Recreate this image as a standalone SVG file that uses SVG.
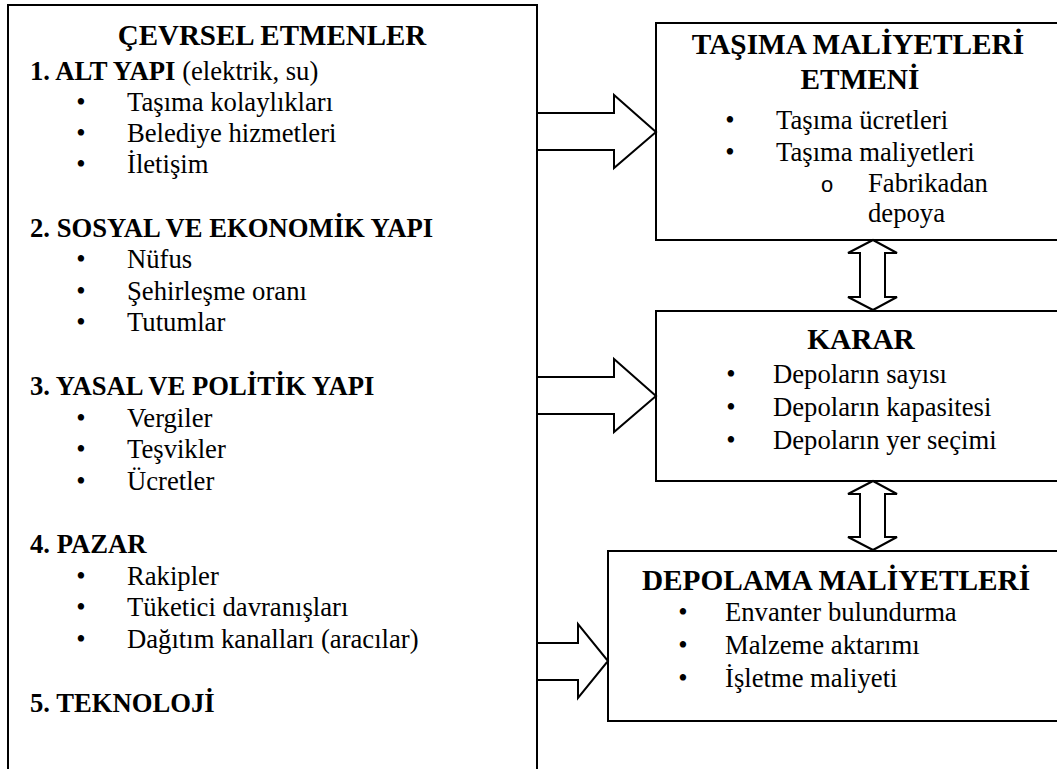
<svg xmlns="http://www.w3.org/2000/svg" width="1057" height="769" viewBox="0 0 1057 769">
<rect width="1057" height="769" fill="#fff"/>
<g id="cevrsel" style="font-family:'Liberation Serif',Tinos,serif;font-size:26.67px">
<rect x="8" y="5" width="529" height="800" fill="#fff" stroke="#000" stroke-width="2"/>
<text x="272" y="45" text-anchor="middle" style="font-family:'Liberation Serif',Tinos,serif;font-size:29px;font-weight:bold">ÇEVRSEL ETMENLER</text>
<text x="30" y="80" style="font-family:'Liberation Serif',Tinos,serif;font-weight:bold">1. ALT YAPI <tspan style="font-weight:normal">(elektrik, su)</tspan></text>
<text x="81" y="111" text-anchor="middle" style="font-family:'Liberation Serif',Tinos,serif">•</text><text x="127" y="111" style="font-family:'Liberation Serif',Tinos,serif">Taşıma kolaylıkları</text>
<text x="81" y="142" text-anchor="middle" style="font-family:'Liberation Serif',Tinos,serif">•</text><text x="127" y="142" style="font-family:'Liberation Serif',Tinos,serif">Belediye hizmetleri</text>
<text x="81" y="173" text-anchor="middle" style="font-family:'Liberation Serif',Tinos,serif">•</text><text x="127" y="173" style="font-family:'Liberation Serif',Tinos,serif">İletişim</text>
<text x="30" y="237" style="font-family:'Liberation Serif',Tinos,serif;font-weight:bold">2. SOSYAL VE EKONOMİK YAPI</text>
<text x="81" y="268" text-anchor="middle" style="font-family:'Liberation Serif',Tinos,serif">•</text><text x="127" y="268" style="font-family:'Liberation Serif',Tinos,serif">Nüfus</text>
<text x="81" y="300" text-anchor="middle" style="font-family:'Liberation Serif',Tinos,serif">•</text><text x="127" y="300" style="font-family:'Liberation Serif',Tinos,serif">Şehirleşme oranı</text>
<text x="81" y="331" text-anchor="middle" style="font-family:'Liberation Serif',Tinos,serif">•</text><text x="127" y="331" style="font-family:'Liberation Serif',Tinos,serif">Tutumlar</text>
<text x="30" y="395" style="font-family:'Liberation Serif',Tinos,serif;font-weight:bold">3. YASAL VE POLİTİK YAPI</text>
<text x="81" y="427" text-anchor="middle" style="font-family:'Liberation Serif',Tinos,serif">•</text><text x="127" y="427" style="font-family:'Liberation Serif',Tinos,serif">Vergiler</text>
<text x="81" y="458" text-anchor="middle" style="font-family:'Liberation Serif',Tinos,serif">•</text><text x="127" y="458" style="font-family:'Liberation Serif',Tinos,serif">Teşvikler</text>
<text x="81" y="490" text-anchor="middle" style="font-family:'Liberation Serif',Tinos,serif">•</text><text x="127" y="490" style="font-family:'Liberation Serif',Tinos,serif">Ücretler</text>
<text x="30" y="553" style="font-family:'Liberation Serif',Tinos,serif;font-weight:bold">4. PAZAR</text>
<text x="81" y="585" text-anchor="middle" style="font-family:'Liberation Serif',Tinos,serif">•</text><text x="127" y="585" style="font-family:'Liberation Serif',Tinos,serif">Rakipler</text>
<text x="81" y="616" text-anchor="middle" style="font-family:'Liberation Serif',Tinos,serif">•</text><text x="127" y="616" style="font-family:'Liberation Serif',Tinos,serif">Tüketici davranışları</text>
<text x="81" y="648" text-anchor="middle" style="font-family:'Liberation Serif',Tinos,serif">•</text><text x="127" y="648" style="font-family:'Liberation Serif',Tinos,serif">Dağıtım kanalları (aracılar)</text>
<text x="30" y="712" style="font-family:'Liberation Serif',Tinos,serif;font-weight:bold">5. TEKNOLOJİ</text>
</g>
<g id="tasima" style="font-family:'Liberation Serif',Tinos,serif;font-size:26.67px">
<rect x="656" y="23" width="450" height="217" fill="#fff" stroke="#000" stroke-width="2"/>
<text x="858" y="54" text-anchor="middle" style="font-family:'Liberation Serif',Tinos,serif;font-size:29.3px;font-weight:bold">TAŞIMA MALİYETLERİ</text>
<text x="860" y="89" text-anchor="middle" style="font-family:'Liberation Serif',Tinos,serif;font-size:29.3px;font-weight:bold">ETMENİ</text>
<text x="730" y="129" text-anchor="middle" style="font-family:'Liberation Serif',Tinos,serif">•</text><text x="776" y="129" style="font-family:'Liberation Serif',Tinos,serif">Taşıma ücretleri</text>
<text x="730" y="161" text-anchor="middle" style="font-family:'Liberation Serif',Tinos,serif">•</text><text x="776" y="161" style="font-family:'Liberation Serif',Tinos,serif">Taşıma maliyetleri</text>
<text x="827" y="192" text-anchor="middle" style="font-family:'Liberation Mono',monospace;font-size:22px">o</text><text x="868" y="192" style="font-family:'Liberation Serif',Tinos,serif">Fabrikadan</text>
<text x="868" y="222" style="font-family:'Liberation Serif',Tinos,serif">depoya</text>
</g>
<g id="karar" style="font-family:'Liberation Serif',Tinos,serif;font-size:26.67px">
<rect x="656" y="311" width="450" height="170" fill="#fff" stroke="#000" stroke-width="2"/>
<text x="861" y="349" text-anchor="middle" style="font-family:'Liberation Serif',Tinos,serif;font-size:29.3px;font-weight:bold">KARAR</text>
<text x="731" y="383" text-anchor="middle" style="font-family:'Liberation Serif',Tinos,serif">•</text><text x="773" y="383" style="font-family:'Liberation Serif',Tinos,serif">Depoların sayısı</text>
<text x="731" y="416" text-anchor="middle" style="font-family:'Liberation Serif',Tinos,serif">•</text><text x="773" y="416" style="font-family:'Liberation Serif',Tinos,serif">Depoların kapasitesi</text>
<text x="731" y="449" text-anchor="middle" style="font-family:'Liberation Serif',Tinos,serif">•</text><text x="773" y="449" style="font-family:'Liberation Serif',Tinos,serif">Depoların yer seçimi</text>
</g>
<g id="depolama" style="font-family:'Liberation Serif',Tinos,serif;font-size:26.67px">
<rect x="608" y="551" width="500" height="170" fill="#fff" stroke="#000" stroke-width="2"/>
<text x="836" y="590" text-anchor="middle" style="font-family:'Liberation Serif',Tinos,serif;font-size:29.3px;font-weight:bold">DEPOLAMA MALİYETLERİ</text>
<text x="683" y="621" text-anchor="middle" style="font-family:'Liberation Serif',Tinos,serif">•</text><text x="725" y="621" style="font-family:'Liberation Serif',Tinos,serif">Envanter bulundurma</text>
<text x="683" y="654" text-anchor="middle" style="font-family:'Liberation Serif',Tinos,serif">•</text><text x="725" y="654" style="font-family:'Liberation Serif',Tinos,serif">Malzeme aktarımı</text>
<text x="683" y="687" text-anchor="middle" style="font-family:'Liberation Serif',Tinos,serif">•</text><text x="725" y="687" style="font-family:'Liberation Serif',Tinos,serif">İşletme maliyeti</text>
</g>
<g id="connectors" fill="#fff" stroke="#000" stroke-width="2">
<polygon points="537,113 614,113 614,95 656,132 614,168 614,150 537,150"/>
<polygon points="537,377 614,377 614,359 656,396 614,432 614,414 537,414"/>
<polygon points="537,643 578,643 578,624 608,661 578,698 578,680 537,680"/>
<polygon points="873,240 897,253 885,253 885,297 897,297 873,310 848,297 860,297 860,253 848,253"/>
<polygon points="873,481 897,494 885,494 885,537 897,537 873,550 848,537 860,537 860,494 848,494"/>
</g>
</svg>
